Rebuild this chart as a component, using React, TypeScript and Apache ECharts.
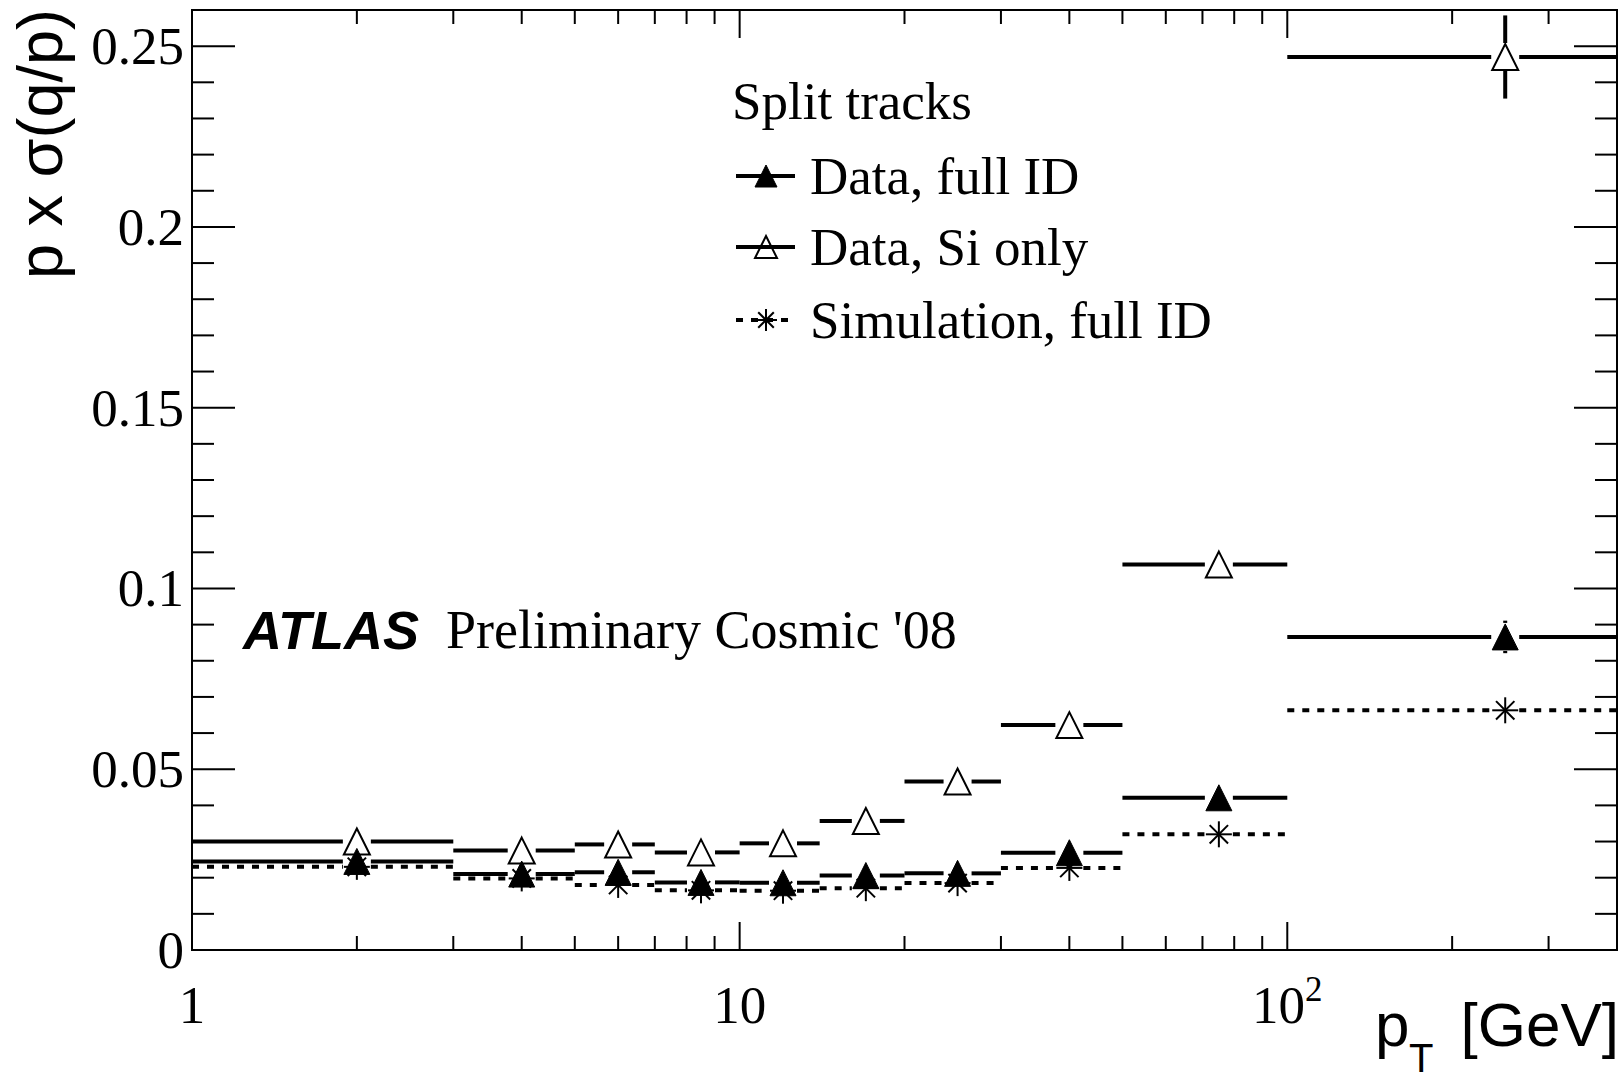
import React, { useEffect, useRef } from "react";
import * as echarts from "echarts";

// ---- data ----
const binLow = [1, 3, 5, 7, 10, 14, 20, 30, 50, 100];
const binHigh = [3, 5, 7, 10, 14, 20, 30, 50, 100, 400];
const binCenter = [2, 4, 6, 8.5, 12, 17, 25, 40, 75, 250];
const dataFullID = [0.0245, 0.021, 0.0215, 0.0187, 0.0186, 0.0206, 0.0212, 0.0269, 0.0421, 0.0866];
const dataFullIDErr = [0, 0, 0, 0, 0, 0, 0, 0, 0, 0.0045];
const dataSiOnly = [0.03, 0.0275, 0.0292, 0.027, 0.0295, 0.0357, 0.0466, 0.0622, 0.1066, 0.247];
const dataSiOnlyErr = [0, 0, 0, 0, 0, 0, 0, 0, 0, 0.0115];
const simFullID = [0.023, 0.0198, 0.018, 0.0165, 0.0164, 0.0171, 0.0185, 0.0227, 0.032, 0.0663];
const simFullIDErr = [0, 0, 0, 0, 0, 0, 0, 0, 0, 0];

const X_MIN = 1;
const X_MAX = 400;
const Y_MIN = 0;
const Y_MAX = 0.26;
const Y_INTERVAL = 0.05;

const yMajorTicks = [0.05, 0.1, 0.15, 0.2, 0.25];
const yMinorTicks = [
  0.01, 0.02, 0.03, 0.04, 0.06, 0.07, 0.08, 0.09, 0.11, 0.12, 0.13, 0.14,
  0.16, 0.17, 0.18, 0.19, 0.21, 0.22, 0.23, 0.24,
];
const xMajorTicks = [10, 100];
const xMinorTicks = [2, 3, 4, 5, 6, 7, 8, 9, 20, 30, 40, 50, 60, 70, 80, 90, 200, 300];
const xLabelValues = [1, 10, 100];
const xLabelBase = ["1", "10", "10"];
const xLabelExp = ["", "", "2"];

const legendTitle = "Split tracks";
const legendNames = ["Data, full ID", "Data, Si only", "Simulation, full ID"];

const SERIF = "Liberation Serif";
const SANS = "Liberation Sans";

type Marker = "filled" | "open" | "star";

function markerShapes(kind: Marker, cx: number, cy: number, r: number) {
  if (kind === "star") {
    const d = r * Math.SQRT1_2;
    const st = { stroke: "#000", lineWidth: 2 };
    return [
      { type: "line", shape: { x1: cx - r, y1: cy, x2: cx + r, y2: cy }, style: st },
      { type: "line", shape: { x1: cx, y1: cy - r, x2: cx, y2: cy + r }, style: st },
      { type: "line", shape: { x1: cx - d, y1: cy - d, x2: cx + d, y2: cy + d }, style: st },
      { type: "line", shape: { x1: cx - d, y1: cy + d, x2: cx + d, y2: cy - d }, style: st },
    ];
  }
  const pts = [
    [cx, cy - r],
    [cx + r, cy + r],
    [cx - r, cy + r],
  ];
  if (kind === "filled") {
    return [{ type: "polygon", shape: { points: pts }, style: { fill: "#000", stroke: "#000", lineWidth: 1 } }];
  }
  return [{ type: "polygon", shape: { points: pts }, style: { fill: "none", stroke: "#000", lineWidth: 2 } }];
}

function dataSeries(name: string, vals: number[], errs: number[], kind: Marker, dashed: boolean, z: number) {
  const GAP = 14;
  return {
    name,
    type: "custom",
    z,
    coordinateSystem: "cartesian2d",
    encode: { x: [0, 1, 2], y: 3 },
    data: binLow.map((lo, i) => [lo, binHigh[i], binCenter[i], vals[i], errs[i]]),
    renderItem: (params: any, api: any) => {
      const y = api.value(3);
      const c = api.coord([api.value(2), y]);
      const l = api.coord([api.value(0), y]);
      const r = api.coord([api.value(1), y]);
      const ls: any = { stroke: "#000", lineWidth: 4, fill: null };
      if (dashed) ls.lineDash = [7, 8];
      const children: any[] = [
        { type: "line", shape: { x1: l[0], y1: c[1], x2: c[0] - GAP, y2: c[1] }, style: ls },
        { type: "line", shape: { x1: c[0] + GAP, y1: c[1], x2: r[0], y2: c[1] }, style: ls },
      ];
      const e = api.value(4);
      if (e > 0) {
        const t = api.coord([api.value(2), y + e]);
        const b = api.coord([api.value(2), y - e]);
        const vs = { stroke: "#000", lineWidth: 4 };
        if (c[1] - t[1] > GAP) children.push({ type: "line", shape: { x1: c[0], y1: t[1], x2: c[0], y2: c[1] - GAP }, style: vs });
        if (b[1] - c[1] > GAP) children.push({ type: "line", shape: { x1: c[0], y1: c[1] + GAP, x2: c[0], y2: b[1] }, style: vs });
      }
      children.push(...markerShapes(kind, c[0], c[1], 13));
      return { type: "group", children };
    },
  };
}

function yTickSeries(values: number[], len: number) {
  return {
    type: "custom",
    z: 10,
    coordinateSystem: "cartesian2d",
    encode: { x: 0, y: 1 },
    data: values.map((v) => [X_MIN, v]),
    renderItem: (params: any, api: any) => {
      const a = api.coord([X_MIN, api.value(1)]);
      const b = api.coord([X_MAX, api.value(1)]);
      const st = { stroke: "#000", lineWidth: 2 };
      return {
        type: "group",
        children: [
          { type: "line", shape: { x1: a[0], y1: a[1], x2: a[0] + len, y2: a[1] }, style: st },
          { type: "line", shape: { x1: b[0], y1: b[1], x2: b[0] - len, y2: b[1] }, style: st },
        ],
      };
    },
  };
}

function xTickSeries(values: number[], len: number) {
  return {
    type: "custom",
    z: 10,
    coordinateSystem: "cartesian2d",
    encode: { x: 0, y: 1 },
    data: values.map((v) => [v, Y_MIN]),
    renderItem: (params: any, api: any) => {
      const a = api.coord([api.value(0), Y_MIN]);
      const b = api.coord([api.value(0), Y_MAX]);
      const st = { stroke: "#000", lineWidth: 2 };
      return {
        type: "group",
        children: [
          { type: "line", shape: { x1: a[0], y1: a[1], x2: a[0], y2: a[1] - len }, style: st },
          { type: "line", shape: { x1: b[0], y1: b[1], x2: b[0], y2: b[1] + len }, style: st },
        ],
      };
    },
  };
}

function txt(text: string, x: number, y: number, size: number, family: string, opts: any = {}) {
  const align = opts.align || "left";
  return {
    type: "text",
    x,
    y,
    rotation: opts.rotation || 0,
    z: 20,
    style: {
      text,
      fill: "#000",
      fontSize: size,
      fontFamily: family,
      fontWeight: opts.weight || "normal",
      fontStyle: opts.style || "normal",
      align,
      verticalAlign: "middle",
      textAlign: align,
      textVerticalAlign: "middle",
    },
  };
}

function legendGraphics() {
  const rows = [176, 247, 320];
  const kinds: Marker[] = ["filled", "open", "star"];
  const els: any[] = [txt(legendTitle, 732, 101, 53, SERIF)];
  rows.forEach((ry, i) => {
    const ls: any = { stroke: "#000", lineWidth: 4 };
    if (i === 2) ls.lineDash = [7, 8];
    els.push({ type: "line", z: 20, shape: { x1: 736, y1: ry, x2: 795, y2: ry }, style: ls });
    markerShapes(kinds[i], 766, ry, 11).forEach((m: any) => els.push({ ...m, z: 21 }));
    els.push(txt(legendNames[i], 810, ry, 53, SERIF));
  });
  return els;
}

export default function App() {
  const ref = useRef<HTMLDivElement>(null);
  useEffect(() => {
    if (!ref.current) return;
    const chart = echarts.init(ref.current, undefined, { renderer: "svg" });
    const option: any = {
      animation: false,
      backgroundColor: "#fff",
      grid: {
        left: 192,
        right: 2,
        top: 10,
        bottom: 133,
        show: true,
        borderColor: "#000",
        borderWidth: 2,
        backgroundColor: "transparent",
        containLabel: false,
        outerBoundsMode: "none",
      },
      xAxis: {
        type: "log",
        logBase: 10,
        min: X_MIN,
        max: X_MAX,
        axisLine: { show: false },
        axisTick: { show: false },
        splitLine: { show: false },
        minorTick: { show: false },
        axisLabel: {
          margin: 22,
          showMinLabel: true,
          showMaxLabel: true,
          formatter: (v: number) => {
            const e = Math.log10(v);
            const n = Math.round(e);
            if (Math.abs(e - n) > 1e-6) return "";
            const idx = xLabelValues.findIndex((lv) => Math.abs(Math.log10(lv) - n) < 1e-6);
            if (idx < 0) return "";
            return xLabelExp[idx] ? `{b|${xLabelBase[idx]}}{s|${xLabelExp[idx]}}` : `{b|${xLabelBase[idx]}}`;
          },
          rich: {
            b: { fontSize: 53, fontFamily: SERIF, color: "#000", lineHeight: 66 },
            s: { fontSize: 35, fontFamily: SERIF, color: "#000", lineHeight: 35, verticalAlign: "top" },
          },
        },
      },
      yAxis: {
        type: "value",
        min: Y_MIN,
        max: Y_MAX,
        interval: Y_INTERVAL,
        axisLine: { show: false },
        axisTick: { show: false },
        splitLine: { show: false },
        axisLabel: {
          margin: 8,
          fontSize: 53,
          fontFamily: SERIF,
          color: "#000",
          formatter: (v: number) => {
            const k = v / Y_INTERVAL;
            if (Math.abs(k - Math.round(k)) > 1e-6) return "";
            return String(Math.round(v * 100) / 100);
          },
        },
      },
      series: [
        dataSeries(legendNames[2], simFullID, simFullIDErr, "star", true, 3),
        dataSeries(legendNames[0], dataFullID, dataFullIDErr, "filled", false, 4),
        dataSeries(legendNames[1], dataSiOnly, dataSiOnlyErr, "open", false, 5),
        yTickSeries(yMajorTicks, 43),
        yTickSeries(yMinorTicks, 22),
        xTickSeries(xMajorTicks, 28),
        xTickSeries(xMinorTicks, 14),
      ],
      graphic: [
        ...legendGraphics(),
        txt("ATLAS", 243, 630, 54, SANS, { weight: "bold", style: "italic" }),
        txt("Preliminary Cosmic '08", 446, 630, 54, SERIF),
        txt("p x σ(q/p)", 40, 9, 63, SANS, { rotation: Math.PI / 2, align: "right" }),
        txt("p", 1375, 1024, 62, SANS),
        txt("T", 1409, 1058, 40, SANS),
        txt("[GeV]", 1619, 1024, 62, SANS, { align: "right" }),
      ],
    };
    chart.setOption(option);
    return () => chart.dispose();
  }, []);
  return <div ref={ref} style={{ position: "absolute", left: 0, top: 0, width: 1619, height: 1083 }} />;
}
